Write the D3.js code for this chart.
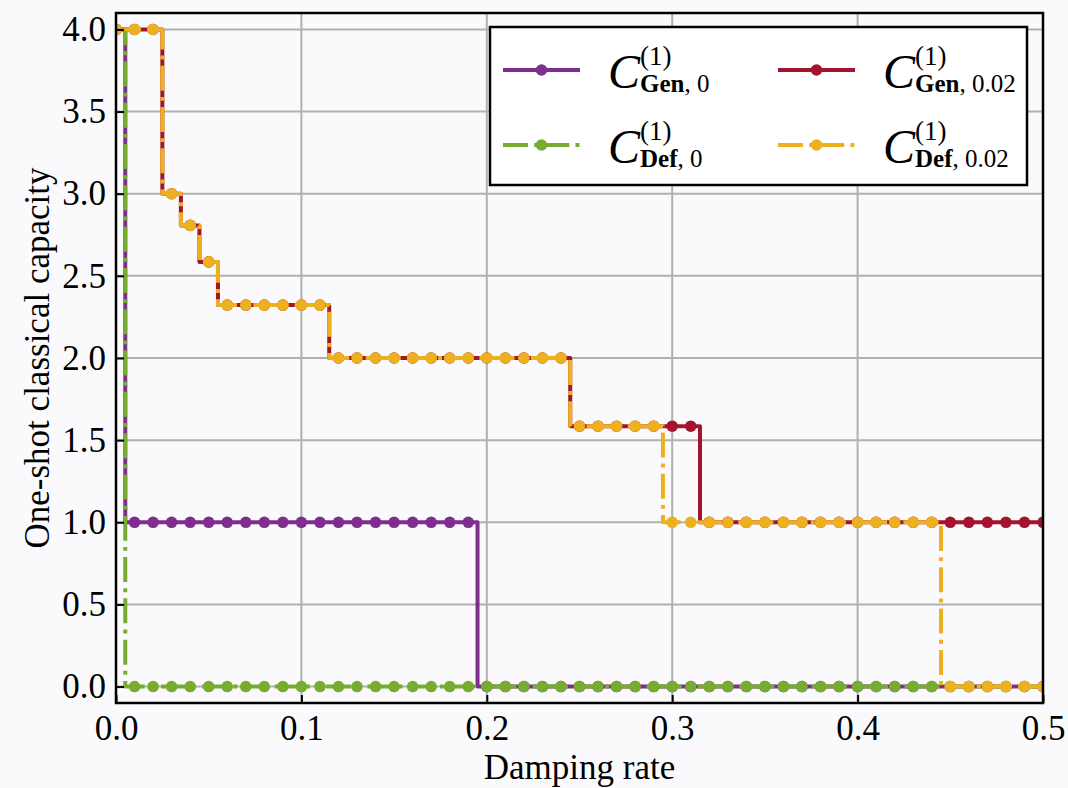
<!DOCTYPE html>
<html>
<head>
<meta charset="utf-8">
<script src="https://cdn.jsdelivr.net/npm/d3@7"></script>
<style>
  body { margin: 0; background: #fafafd; }
  svg { display: block; }
</style>
</head>
<body>
<svg id="chart" width="1068" height="788"></svg>
<script>
// damping rate samples
var dampingRate = [0.00, 0.01, 0.02, 0.03, 0.04, 0.05, 0.06, 0.07, 0.08, 0.09,
                   0.10, 0.11, 0.12, 0.13, 0.14, 0.15, 0.16, 0.17, 0.18, 0.19,
                   0.20, 0.21, 0.22, 0.23, 0.24, 0.25, 0.26, 0.27, 0.28, 0.29,
                   0.30, 0.31, 0.32, 0.33, 0.34, 0.35, 0.36, 0.37, 0.38, 0.39,
                   0.40, 0.41, 0.42, 0.43, 0.44, 0.45, 0.46, 0.47, 0.48, 0.49, 0.50];

// capacities
var genZero = [4, 1, 1, 1, 1, 1, 1, 1, 1, 1,
               1, 1, 1, 1, 1, 1, 1, 1, 1, 1,
               0, 0, 0, 0, 0, 0, 0, 0, 0, 0,
               0, 0, 0, 0, 0, 0, 0, 0, 0, 0,
               0, 0, 0, 0, 0, 0, 0, 0, 0, 0, 0];
var defZero = [4, 0, 0, 0, 0, 0, 0, 0, 0, 0,
               0, 0, 0, 0, 0, 0, 0, 0, 0, 0,
               0, 0, 0, 0, 0, 0, 0, 0, 0, 0,
               0, 0, 0, 0, 0, 0, 0, 0, 0, 0,
               0, 0, 0, 0, 0, 0, 0, 0, 0, 0, 0];
var genNoise = [4, 4, 4, 3, 2.807, 2.585, 2.322, 2.322, 2.322, 2.322,
                2.322, 2.322, 2, 2, 2, 2, 2, 2, 2, 2,
                2, 2, 2, 2, 2, 1.585, 1.585, 1.585, 1.585, 1.585,
                1.585, 1.585, 1, 1, 1, 1, 1, 1, 1, 1,
                1, 1, 1, 1, 1, 1, 1, 1, 1, 1, 1];
var defNoise = [4, 4, 4, 3, 2.807, 2.585, 2.322, 2.322, 2.322, 2.322,
                2.322, 2.322, 2, 2, 2, 2, 2, 2, 2, 2,
                2, 2, 2, 2, 2, 1.585, 1.585, 1.585, 1.585, 1.585,
                1, 1, 1, 1, 1, 1, 1, 1, 1, 1,
                1, 1, 1, 1, 1, 0, 0, 0, 0, 0, 0];

var xTicks = [0, 0.1, 0.2, 0.3, 0.4, 0.5];
var yTicks = [0, 0.5, 1, 1.5, 2, 2.5, 3, 3.5, 4];

var series = [
  {name: "Gen", noise: "0", values: genZero, color: "#7e2f8e", dash: null},
  {name: "Def", noise: "0", values: defZero, color: "#77ac30", dash: "25,6.2,3.9,6.2"},
  {name: "Gen", noise: "0.02", values: genNoise, color: "#a2142f", dash: null},
  {name: "Def", noise: "0.02", values: defNoise, color: "#edb120", dash: "25,6.2,3.9,6.2"}
];

var width = 1068, height = 788;
var margin = {top: 13, right: 25, bottom: 85, left: 116};
var lw = 4, mr = 5.8;
var serif = "Liberation Serif, Times New Roman, serif";

var svg = d3.select("#chart");
svg.append("rect").attr("width", width).attr("height", height).attr("fill", "#fafafd");

var x = d3.scaleLinear().domain([0, 0.5]).range([margin.left, width - margin.right]);
var y = d3.scaleLinear().domain([-0.1, 4.1]).range([height - margin.bottom, margin.top]);

svg.append("defs").append("clipPath").attr("id", "plotclip")
   .append("rect")
   .attr("x", x(0)).attr("y", y(4.1))
   .attr("width", x(0.5) - x(0)).attr("height", y(-0.1) - y(4.1));

// grid
var grid = svg.append("g").attr("class", "grid");
grid.selectAll(".vgrid").data(xTicks).enter().append("line")
    .attr("x1", function(d){ return x(d); }).attr("x2", function(d){ return x(d); })
    .attr("y1", y(-0.1)).attr("y2", y(4.1))
    .attr("stroke", "#b0b0b0").attr("stroke-width", 2);
grid.selectAll(".hgrid").data(yTicks).enter().append("line")
    .attr("y1", function(d){ return y(d); }).attr("y2", function(d){ return y(d); })
    .attr("x1", x(0)).attr("x2", x(0.5))
    .attr("stroke", "#b0b0b0").attr("stroke-width", 2);

// lines
var plot = svg.append("g").attr("clip-path", "url(#plotclip)");
var line = d3.line()
  .x(function(d, i){ return x(dampingRate[i]); })
  .y(function(d){ return y(d); })
  .curve(d3.curveStep);

series.forEach(function(s){
  plot.append("path")
      .attr("d", line(s.values))
      .attr("fill", "none")
      .attr("stroke", s.color)
      .attr("stroke-width", lw)
      .attr("stroke-dasharray", s.dash)
      .attr("stroke-linejoin", "round");
  plot.append("g").selectAll("circle")
      .data(s.values).enter().append("circle")
      .attr("cx", function(d, i){ return x(dampingRate[i]); })
      .attr("cy", function(d){ return y(d); })
      .attr("r", mr)
      .attr("fill", s.color);
});

// axes
var xAxis = d3.axisBottom(x).tickValues(xTicks).tickFormat(d3.format(".1f"))
  .tickSizeInner(-8).tickSizeOuter(0).tickPadding(12);
var yAxis = d3.axisLeft(y).tickValues(yTicks).tickFormat(d3.format(".1f"))
  .tickSizeInner(-8).tickSizeOuter(0).tickPadding(10);

var gx = svg.append("g").attr("transform", "translate(0," + y(-0.1) + ")").call(xAxis);
var gy = svg.append("g").attr("transform", "translate(" + x(0) + ",0)").call(yAxis);
[gx, gy].forEach(function(g){
  g.select(".domain").remove();
  g.selectAll(".tick line").attr("stroke", "#000").attr("stroke-width", 2);
  g.selectAll(".tick text")
   .attr("font-family", serif)
   .attr("font-size", 35).attr("fill", "#000");
});
gx.selectAll(".tick text").attr("dy", "0.71em");

// frame
svg.append("rect")
   .attr("x", x(0)).attr("y", y(4.1))
   .attr("width", x(0.5) - x(0)).attr("height", y(-0.1) - y(4.1))
   .attr("fill", "none").attr("stroke", "#000").attr("stroke-width", 2.5);

// axis labels
svg.append("text")
   .attr("x", (x(0) + x(0.5)) / 2).attr("y", 779)
   .attr("text-anchor", "middle")
   .attr("font-family", serif)
   .attr("font-size", 35)
   .text("Damping rate");
svg.append("text")
   .attr("transform", "translate(49," + (y(-0.1) + y(4.1)) / 2 + ") rotate(-90)")
   .attr("text-anchor", "middle")
   .attr("font-family", serif)
   .attr("font-size", 35)
   .text("One-shot classical capacity");

// legend
var legend = svg.append("g");
legend.append("rect")
  .attr("x", 490).attr("y", 27).attr("width", 537).attr("height", 158)
  .attr("fill", "#ffffff").attr("stroke", "#000").attr("stroke-width", 2.5);

var legendOrder = [0, 2, 1, 3];
legendOrder.forEach(function(si, k){
  var s = series[si];
  var col = k % 2, row = Math.floor(k / 2);
  var lx = 503 + col * 275, ly = 70 + row * 75;
  legend.append("line")
    .attr("x1", lx).attr("x2", lx + 77).attr("y1", ly).attr("y2", ly)
    .attr("stroke", s.color).attr("stroke-width", lw)
    .attr("stroke-dasharray", s.dash);
  legend.append("circle")
    .attr("cx", lx + 38.5).attr("cy", ly).attr("r", mr).attr("fill", s.color);

  var tx = lx + 105, ty = ly + 18;
  legend.append("text")
    .attr("x", tx).attr("y", ty)
    .attr("font-family", serif)
    .attr("font-style", "italic").attr("font-size", 48)
    .text("C");
  legend.append("text")
    .attr("x", tx + 32).attr("y", ty - 23)
    .attr("font-family", serif)
    .attr("font-size", 27)
    .text("(1)");
  var sub = legend.append("text")
    .attr("x", tx + 32).attr("y", ty + 4)
    .attr("font-family", serif)
    .attr("font-size", 25);
  sub.append("tspan").attr("font-weight", "bold").text(s.name);
  sub.append("tspan").text(", " + s.noise);
});
</script>
</body>
</html>
